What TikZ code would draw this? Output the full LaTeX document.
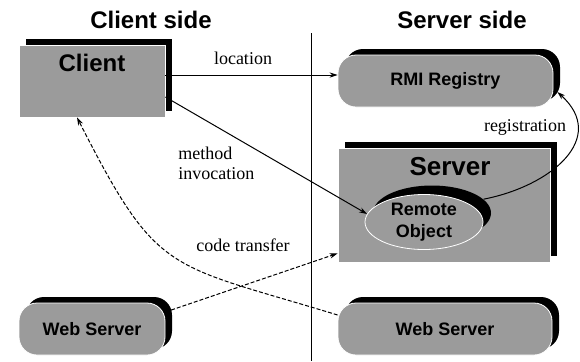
\documentclass[tikz,border=0pt]{standalone}
\usepackage{fontspec}
\setmainfont{Liberation Serif}
\newfontfamily\boxfont{Liberation Sans}
\newfontfamily\tagfont{Liberation Serif}
\usetikzlibrary{arrows.meta,shadows,shapes.geometric}
\definecolor{boxgray}{RGB}{155,155,155}

\begin{document}
\begin{tikzpicture}[x=0.5pt,y=-0.5pt,
  box/.style={fill=boxgray,draw=white,line width=0.4pt,inner sep=0pt,
    drop shadow={shadow xshift=3.5pt,shadow yshift=3pt,fill=black,opacity=1}},
  roundbox/.style={box,rounded corners=9pt,minimum height=26pt,
    font=\boxfont\bfseries\fontsize{9}{11}\selectfont},
  heading/.style={font=\boxfont\bfseries\fontsize{12}{14}\selectfont},
  tag/.style={font=\tagfont\fontsize{9}{10}\selectfont,inner sep=0pt},
  arr/.style={-{Stealth[length=4pt,width=2.6pt]},line width=0.5pt}]
\useasboundingbox (0,0) rectangle (580,361);

% the two sides
\node[heading] (clientside) at (151,20) {Client side};
\node[heading] (serverside) at (462,20) {Server side};
\draw[line width=0.5pt] (311,33) -- (311,361);

% boxes
\node[box,minimum width=73pt,minimum height=36pt] (client) at (92,81) {};
\node[heading] (clienttxt) at (92,63) {Client};
\node[roundbox,minimum width=107.5pt] (registry) at (445.5,81) {RMI Registry};
\node[box,minimum width=106pt,minimum height=57pt] (server) at (444,205) {};
\node[heading,font=\boxfont\bfseries\fontsize{13}{15}\selectfont] (servertxt) at (450,167) {Server};
\node[ellipse,fill=boxgray,draw=white,line width=0.4pt,minimum width=59pt,minimum height=27.5pt,
  inner sep=0pt,align=center,font=\boxfont\bfseries\fontsize{9}{11}\selectfont,
  drop shadow={shadow xshift=4pt,shadow yshift=4.5pt,fill=black,opacity=1}] (remote) at (424,222) {Remote\\Object};
\node[roundbox,minimum width=73pt] (webclient) at (92,329) {Web Server};
\node[roundbox,minimum width=107pt] (webserver) at (445,329) {Web Server};

% connectors
\draw[arr] ([yshift=3pt]client.east) -- ([yshift=3pt]registry.west);
\node[tag] (loclabel) at (243,58) {location};
\draw[arr] ([yshift=-8pt]client.east) -- (remote.172);
\node[tag,align=left,anchor=north west] (invlabel) at (178,147) {method\\invocation};
\draw[arr] ([shift={(4pt,4.5pt)}]remote.15) to[out=11,in=-42,looseness=1.35] ([shift={(2pt,-5.5pt)}]registry.east);
\node[tag] (reglabel) at (525,127) {registration};
\draw[arr,dash pattern=on 2pt off 1pt] ([yshift=8.5pt]webclient.east) -- ([yshift=4.5pt]server.south west);
\node[tag] (codelabel) at (243,245) {code transfer};
\draw[arr,dash pattern=on 2pt off 1pt] ([yshift=7pt]webserver.west) to[out=163,in=-63,looseness=1.4] ([xshift=-7.5pt]client.south);
\end{tikzpicture}
\end{document}
